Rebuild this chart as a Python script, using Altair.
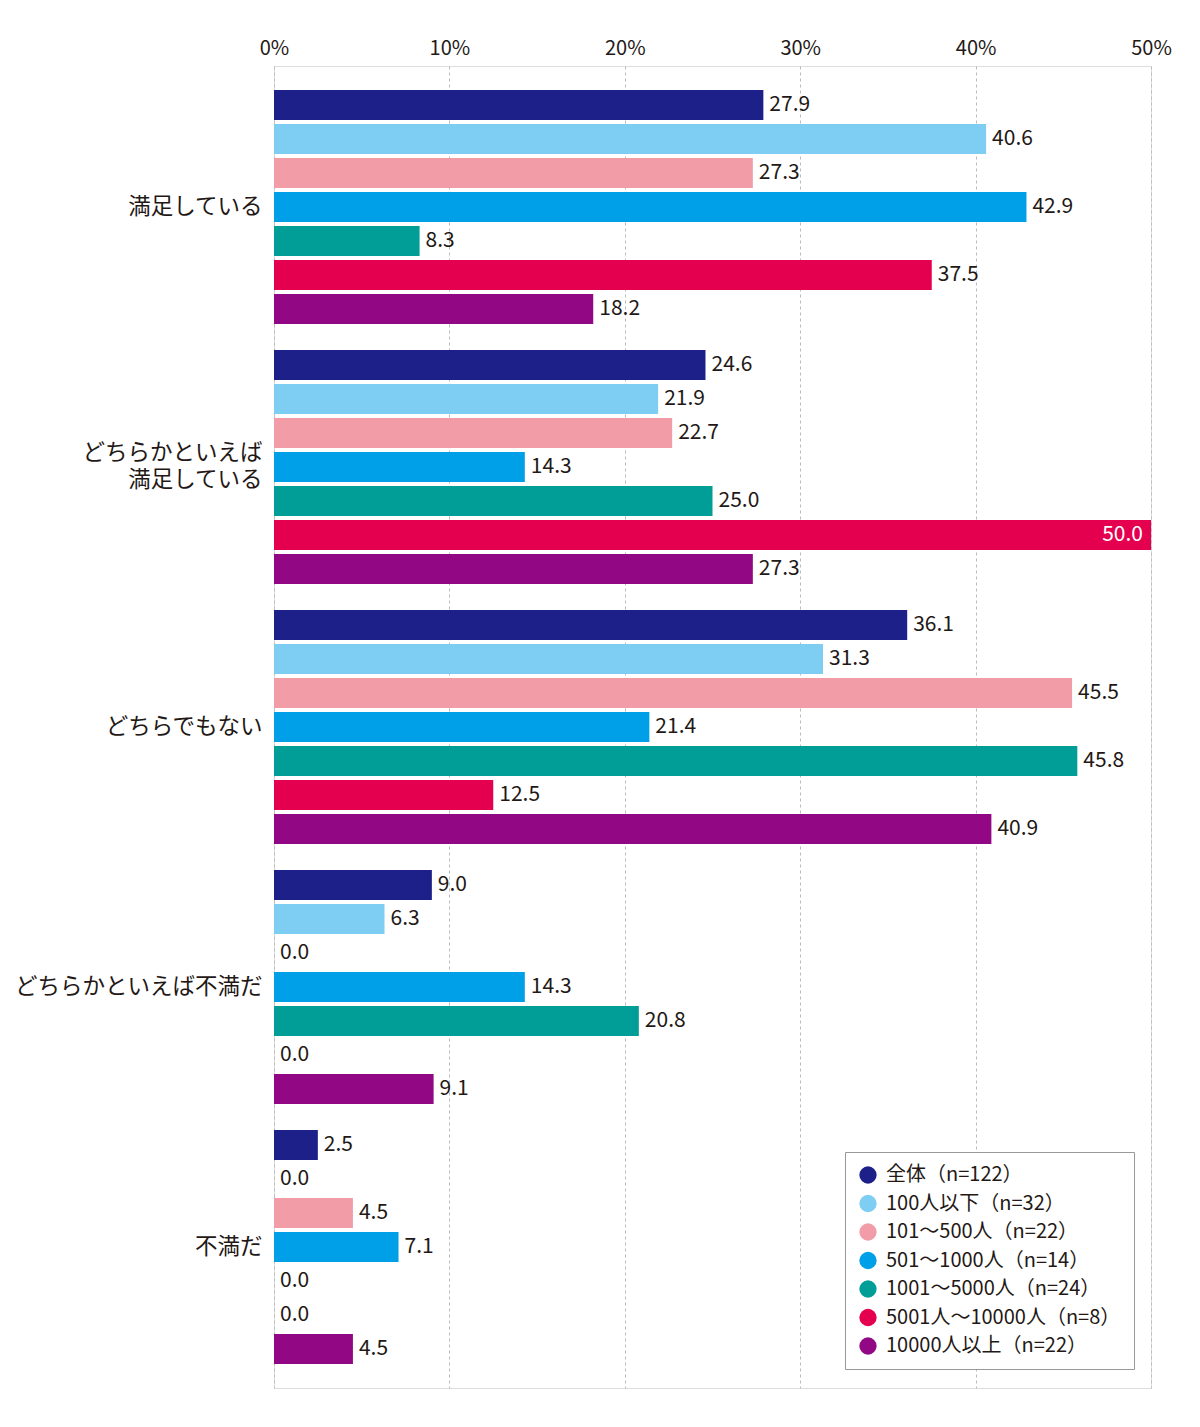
import altair as alt
import pandas as pd

categories = ["満足している", "どちらかといえば満足している", "どちらでもない", "どちらかといえば不満だ", "不満だ"]
series = ["全体（n=122）", "100人以下（n=32）", "101～500人（n=22）", "501～1000人（n=14）",
          "1001～5000人（n=24）", "5001人～10000人（n=8）", "10000人以上（n=22）"]
colors = ["#1d2088", "#7ecef4", "#f19ca7", "#00a0e9", "#009e96", "#e5004f", "#920783"]
values = {
    "満足している": [27.9, 40.6, 27.3, 42.9, 8.3, 37.5, 18.2],
    "どちらかといえば満足している": [24.6, 21.9, 22.7, 14.3, 25.0, 50.0, 27.3],
    "どちらでもない": [36.1, 31.3, 45.5, 21.4, 45.8, 12.5, 40.9],
    "どちらかといえば不満だ": [9.0, 6.3, 0.0, 14.3, 20.8, 0.0, 9.1],
    "不満だ": [2.5, 0.0, 4.5, 7.1, 0.0, 0.0, 4.5],
}

rows = []
for c in categories:
    for s, v in zip(series, values[c]):
        rows.append({"cat": c, "series": s, "value": v, "label": f"{v:.1f}"})
df = pd.DataFrame(rows)

FONT = "Noto Sans CJK JP"
TXT = "#231815"
MULTI = "どちらかといえば満足している"

y_enc = alt.Y("cat:N", sort=categories, title=None,
              scale=alt.Scale(paddingInner=0.0846, paddingOuter=0.0846),
              axis=alt.Axis(labelFontSize=22.5, labelColor=TXT, labelFont=FONT,
                            ticks=False, domain=False, labelPadding=12,
                            labelLineHeight=27, labelLimit=400,
                            labelOffset={"condition": {"test": f"datum.value == '{MULTI}'", "value": -13.5}, "value": 0},
                            labelExpr=f"datum.label == '{MULTI}' ? ['どちらかといえば', '満足している'] : datum.label",
                            minExtent=262, maxExtent=262))
yoff = alt.YOffset("series:N", sort=series,
                   scale=alt.Scale(paddingInner=0.12, paddingOuter=0.06))
x_enc = alt.X("value:Q", title=None,
              scale=alt.Scale(domain=[0, 50], nice=False),
              axis=alt.Axis(orient="top", values=[0, 10, 20, 30, 40, 50],
                            labelExpr="datum.value + '%'", labelFlush=False,
                            labelFontSize=20, labelColor=TXT, labelFont=FONT,
                            ticks=False, domain=False, labelPadding=8,
                            grid=True, gridDash=[3, 3], gridColor="#bbbbbb",
                            minExtent=36, maxExtent=36))

base = alt.Chart(df)

bars = base.mark_bar().encode(
    x=x_enc, y=y_enc, yOffset=yoff,
    color=alt.Color("series:N", sort=series,
                    scale=alt.Scale(domain=series, range=colors),
                    legend=alt.Legend(title=None, orient="none", legendX=571, legendY=1086,
                                      symbolType="circle", symbolSize=300,
                                      labelFontSize=20, labelFont=FONT, labelColor=TXT,
                                      rowPadding=8.5, padding=13, strokeColor="#999999",
                                      fillColor="white", labelLimit=400, labelOffset=8)),
)

text_out = base.transform_filter("datum.value < 50").mark_text(
    align="left", baseline="middle", dx=6, fontSize=21, font=FONT, color=TXT
).encode(x="value:Q", y=alt.Y("cat:N", sort=categories), yOffset=yoff, text="label:N")

text_in = base.transform_filter("datum.value >= 50").mark_text(
    align="right", baseline="middle", dx=-8, fontSize=21, font=FONT, color="white"
).encode(x="value:Q", y=alt.Y("cat:N", sort=categories), yOffset=yoff, text="label:N")

chart = alt.layer(bars, text_out, text_in).properties(
    width=877, height=1322,
    padding={"left": 4, "top": 22, "right": 8, "bottom": 8},
).configure_view(stroke="#aaaaaa", strokeWidth=1.5).configure(font=FONT)

chart.save("out.html", embed_options={"renderer": "svg", "actions": False})
